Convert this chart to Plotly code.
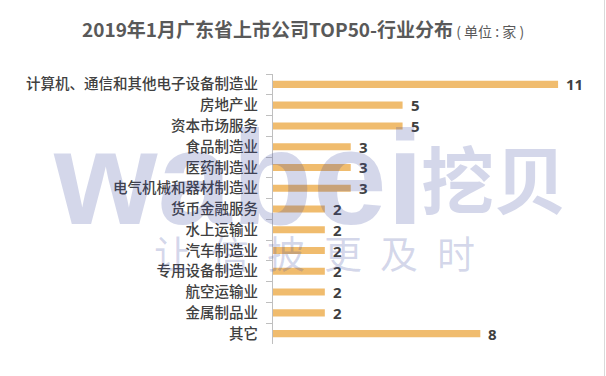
import plotly.graph_objects as go

categories = ["计算机、通信和其他电子设备制造业", "房地产业", "资本市场服务", "食品制造业",
              "医药制造业", "电气机械和器材制造业", "货币金融服务", "水上运输业",
              "汽车制造业", "专用设备制造业", "航空运输业", "金属制品业", "其它"]
values = [11, 5, 5, 3, 3, 3, 2, 2, 2, 2, 2, 2, 8]

title_main = "2019年1月广东省上市公司TOP50-行业分布"
title_unit = " ( 单位 : 家 )"
wm_big = "wabei"
wm_cn = "挖贝"
wm_slogan = list("让信披更及时")

W, H = 606, 376
ML, MR, MT, MB = 273, 22, 74, 32
PW, PH = W - ML - MR, H - MT - MB

def px_x(px):
    return (px - ML) / PW

def px_y(py):
    return (H - MB - py) / PH

fig = go.Figure()
fig.add_trace(go.Bar(
    x=values, y=categories, orientation="h",
    marker=dict(color="#F0BC6E", line=dict(width=0)),
    width=0.34, hoverinfo="skip",
))

annotations = []
for c, v in zip(categories, values):
    annotations.append(dict(
        x=v, y=c, xref="x", yref="y", text=str(v), showarrow=False,
        xanchor="left", yanchor="middle", xshift=6,
        font=dict(family="Noto Sans, Noto Sans CJK SC", size=15, color="#404040", weight="bold"),
    ))

wm_color = "rgba(60,75,160,0.22)"
annotations.append(dict(
    x=px_x(51), y=px_y(178), xref="paper", yref="paper", text=wm_big, showarrow=False,
    xanchor="left", yanchor="middle",
    font=dict(family="Liberation Sans", size=133, color=wm_color, weight="bold"),
))
annotations.append(dict(
    x=px_x(419), y=px_y(176), xref="paper", yref="paper", text=wm_cn, showarrow=False,
    xanchor="left", yanchor="middle",
    font=dict(family="Noto Sans CJK SC", size=73, color=wm_color, weight="bold"),
))
for i, ch in enumerate(wm_slogan):
    annotations.append(dict(
        x=px_x(173 + i * 56.5), y=px_y(251), xref="paper", yref="paper", text=ch,
        showarrow=False, xanchor="center", yanchor="middle",
        font=dict(family="Noto Sans CJK SC", size=38, color=wm_color),
    ))

fig.update_layout(
    width=W, height=H,
    margin=dict(l=ML, r=MR, t=MT, b=MB, pad=0, autoexpand=False),
    paper_bgcolor="white", plot_bgcolor="white",
    showlegend=False,
    title=dict(
        text=f"<b>{title_main}</b><span style='font-size:14px'>{title_unit}</span>",
        xref="container", yref="container", x=82 / W, xanchor="left",
        y=1 - 30 / H, yanchor="middle", automargin=False,
        font=dict(family="Noto Sans CJK SC", size=19, color="#595959"),
    ),
    xaxis=dict(range=[0, 12], visible=False, fixedrange=True, automargin=False),
    yaxis=dict(
        range=[len(categories) - 0.5, -0.5], type="category", automargin=False,
        showline=True, linecolor="#BFBFBF", linewidth=1, fixedrange=True,
        ticks="outside", tickson="boundaries", ticklen=6, tickcolor="#BFBFBF",
        showgrid=False, ticklabelstandoff=11,
        tickfont=dict(family="Noto Sans CJK SC", size=14.5, color="#404040", weight=500),
    ),
    annotations=annotations,
    shapes=[dict(type="line", xref="paper", yref="paper", x0=px_x(604.5), x1=px_x(604.5),
                 y0=px_y(0), y1=px_y(376), line=dict(color="#D9D9D9", width=1))],
)

fig.write_html("out.html", config={"displayModeBar": False, "staticPlot": True},
               post_script="document.body.style.margin='0';document.body.style.padding='0';")
